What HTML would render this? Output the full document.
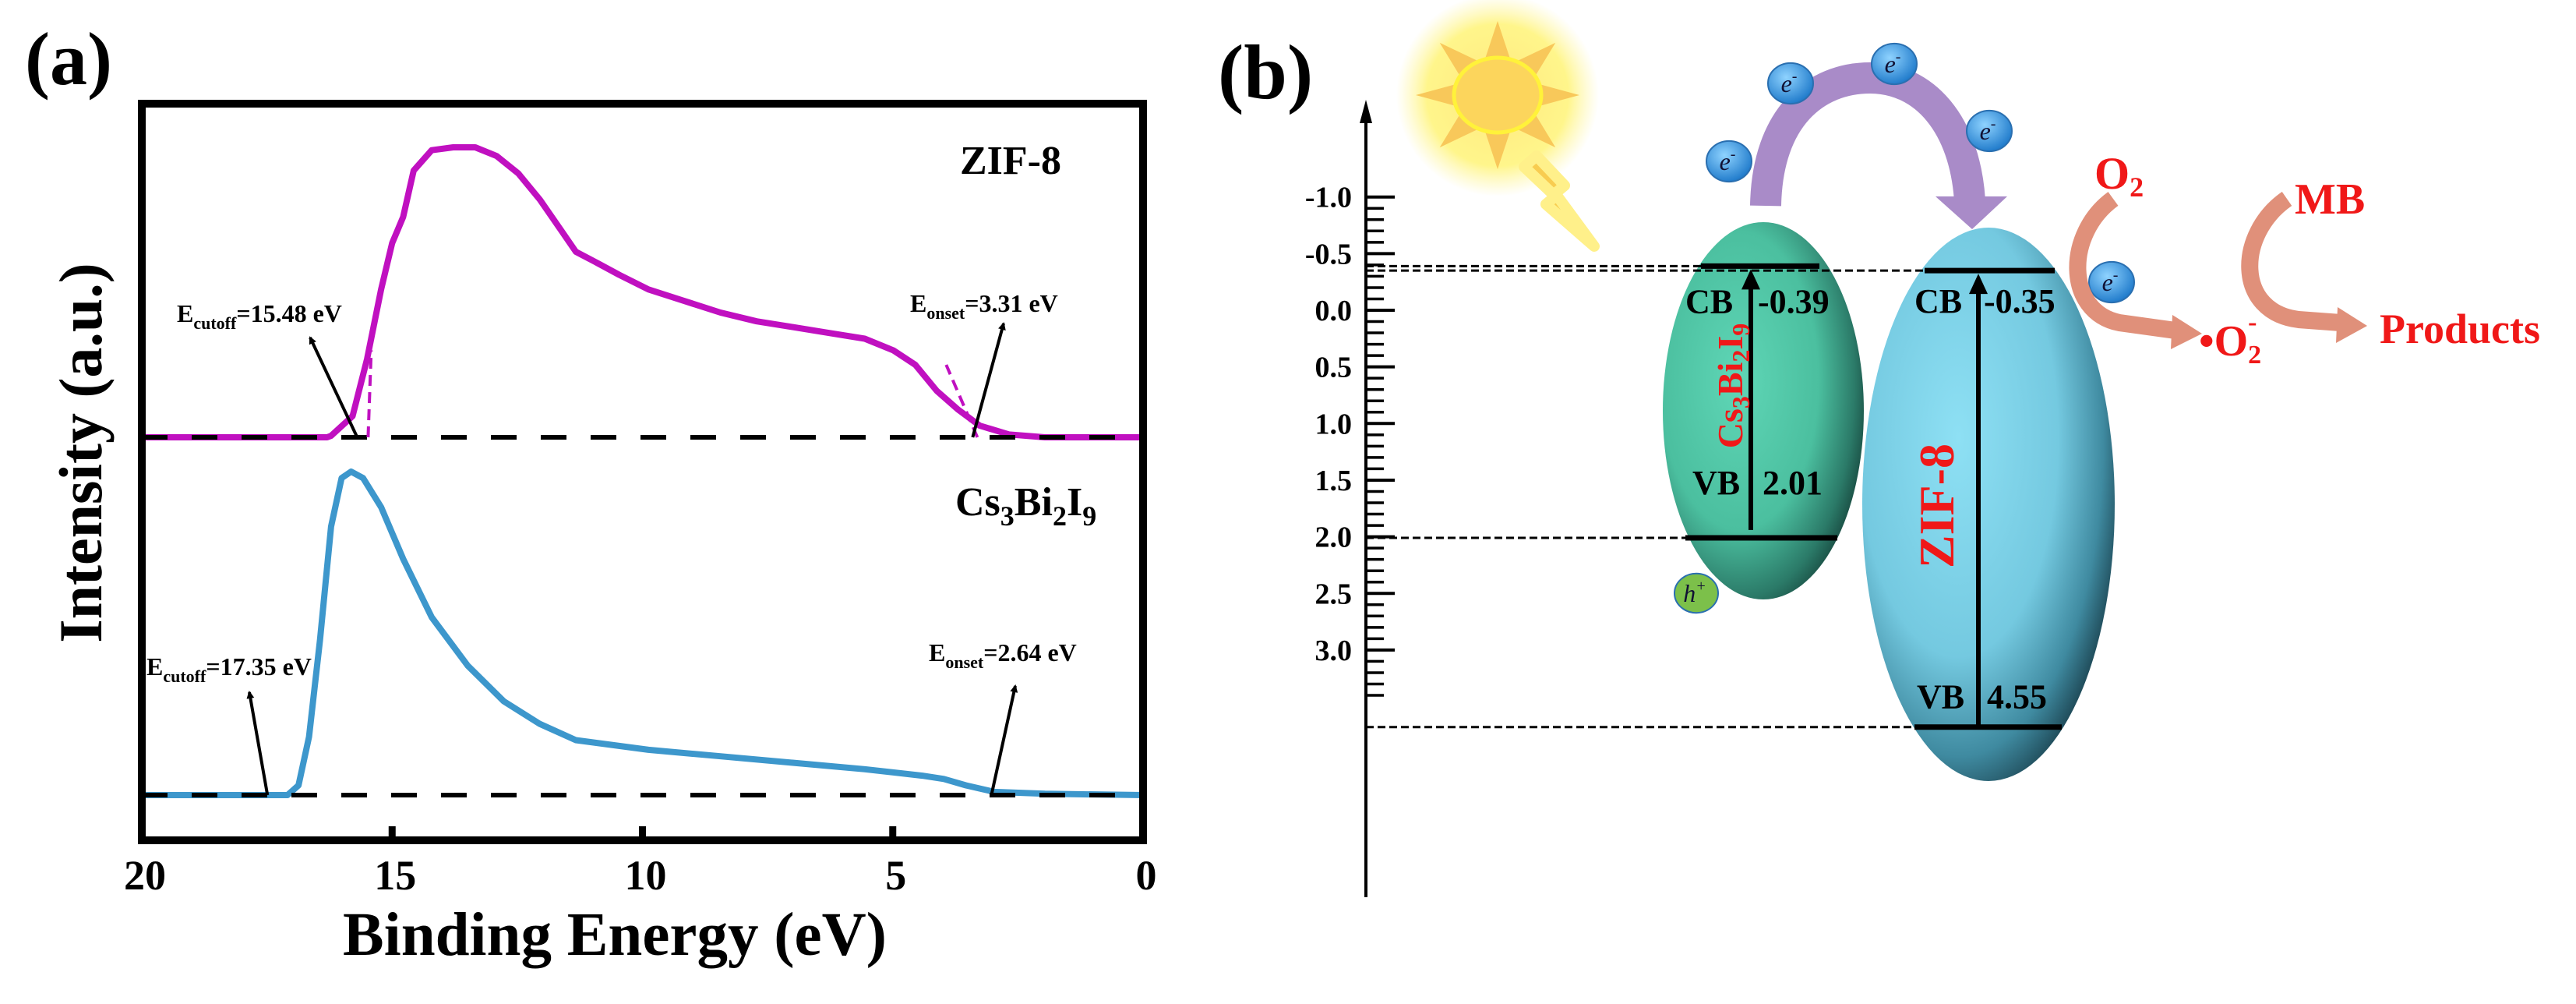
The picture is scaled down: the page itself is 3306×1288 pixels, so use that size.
<!DOCTYPE html>
<html><head><meta charset="utf-8"><style>
html,body{margin:0;padding:0;background:#fff;}
svg{display:block;font-family:"Liberation Serif",serif;font-weight:bold;}
</style></head><body>
<svg id="fig" width="3306" height="1288" viewBox="0 0 3306 1288" xmlns="http://www.w3.org/2000/svg">
<defs>
<radialGradient id="gCs" cx="0.38" cy="0.42" r="0.72">
<stop offset="0" stop-color="#5fd6b6"/><stop offset="0.55" stop-color="#4bbf9f"/><stop offset="0.8" stop-color="#2b7a68"/><stop offset="1" stop-color="#0c2a26"/></radialGradient>
<radialGradient id="gZif" cx="0.38" cy="0.38" r="0.72">
<stop offset="0" stop-color="#8ee0f4"/><stop offset="0.55" stop-color="#74c9e0"/><stop offset="0.8" stop-color="#3f8aa0"/><stop offset="1" stop-color="#102c36"/></radialGradient>
<radialGradient id="gE" cx="0.4" cy="0.35" r="0.7"><stop offset="0" stop-color="#8fd3ff"/><stop offset="1" stop-color="#1a76c8"/></radialGradient>
<radialGradient id="gSun" cx="0.5" cy="0.5" r="0.5"><stop offset="0" stop-color="#ffe060"/><stop offset="0.7" stop-color="#fff04a" stop-opacity="0.8"/><stop offset="1" stop-color="#fff27a" stop-opacity="0"/></radialGradient>
<marker id="ah" markerWidth="10" markerHeight="10" refX="8" refY="5" orient="auto" markerUnits="userSpaceOnUse" viewBox="0 0 10 10"><path d="M0,0 L10,5 L0,10 z" fill="#000"/></marker>
</defs>
<g id="panelA"></g>
<g id="panelB"></g>
</svg>
<script>
// ---- Panel (a) data ----
const zifEnergy = [20,16.3,16.22,15.79,15.5,15.22,15.0,14.78,14.57,14.21,13.78,13.34,12.91,12.48,12.05,11.61,11.33,10.89,10.46,9.88,9.16,8.44,7.72,7.0,6.28,5.56,4.99,4.55,4.12,3.69,3.26,2.68,1.96,0];
const zifIntensity = [0,0,0.005,0.073,0.27,0.51,0.67,0.76,0.92,0.99,1.0,1.0,0.97,0.91,0.82,0.71,0.64,0.60,0.56,0.51,0.47,0.43,0.40,0.38,0.36,0.34,0.30,0.25,0.16,0.095,0.04,0.01,0,0];
const csEnergy = [20,17.09,16.87,16.66,16.44,16.22,16.01,15.82,15.58,15.22,14.78,14.21,13.49,12.77,12.05,11.33,9.88,8.44,7.0,5.56,4.41,3.98,3.54,2.97,1.96,0];
const csIntensity = [0,0,0.03,0.18,0.48,0.83,0.98,1.0,0.98,0.89,0.73,0.55,0.40,0.29,0.22,0.17,0.14,0.12,0.10,0.08,0.06,0.05,0.03,0.01,0.004,0];
const xTicks = [20,15,10,5,0];
const cutoffs = [15.48,17.35];
const onsets = [3.31,2.64];
// ---- Panel (b) data ----
const levelTicks = [-1.0,-0.5,0.0,0.5,1.0,1.5,2.0,2.5,3.0];
const csBands = [-0.39,2.01];
const zifBands = [-0.35,4.55];

const NS='http://www.w3.org/2000/svg';
function el(tag,attrs,parent,text){const e=document.createElementNS(NS,tag);for(const k in attrs)e.setAttribute(k,attrs[k]);if(text!==undefined)e.textContent=text;parent.appendChild(e);return e;}
const A=document.getElementById('panelA'), B=document.getElementById('panelB');

const fx={l:182,r:1467,t:133,b:1078};
const xE=e=>fx.l+(20-e)/20*(fx.r-fx.l);
const yZ=v=>561-v*372;
const yC=v=>1020-v*415;

let t;
t=el('text',{x:32,y:108,'font-size':96},A,'(a)');



function curve(E,I,yf,color,w,name){
  const d=E.map((e,i)=>(i?'L':'M')+xE(e).toFixed(1)+','+yf(I[i]).toFixed(1)).join(' ');
  const p=el('path',{d:d,fill:'none',stroke:color,'stroke-width':w,'stroke-linejoin':'round'},A);
  
  
}
curve(zifEnergy,zifIntensity,yZ,'#c010c0',8,'zif8-curve');
curve(csEnergy,csIntensity,yC,'#3d97cc',8,'cs3bi2i9-curve');

let bl=el('line',{x1:fx.l,x2:fx.r,y1:yZ(0),y2:yZ(0),stroke:'#000','stroke-width':6,'stroke-dasharray':'33 31'},A);


bl=el('line',{x1:fx.l,x2:fx.r,y1:yC(0),y2:yC(0),stroke:'#000','stroke-width':6,'stroke-dasharray':'33 31'},A);



let fl=el('line',{x1:xE(cutoffs[0]),y1:yZ(0),x2:xE(cutoffs[0])+4,y2:yZ(0.3),stroke:'#c010c0','stroke-width':4,'stroke-dasharray':'14 8'},A);


fl=el('line',{x1:xE(onsets[0]),y1:yZ(0),x2:xE(onsets[0])-40,y2:yZ(0.25),stroke:'#c010c0','stroke-width':4,'stroke-dasharray':'14 8'},A);



let fr=el('rect',{x:fx.l,y:fx.t,width:fx.r-fx.l,height:fx.b-fx.t,fill:'none',stroke:'#000','stroke-width':10},A);


xTicks.forEach(v=>{
  const tk=el('line',{x1:xE(v),x2:xE(v),y1:fx.b,y2:fx.b-18,stroke:'#000','stroke-width':9},A);
  
  
  const tl=el('text',{x:xE(v)+4,y:1141,'font-size':54,'text-anchor':'middle'},A,String(v));
  
  
});
t=el('text',{x:789,y:1225,'font-size':79,'text-anchor':'middle'},A,'Binding Energy (eV)');


t=el('text',{x:0,y:0,'font-size':78,'text-anchor':'middle',transform:'translate(130,581) rotate(-90)'},A,'Intensity (a.u.)');



t=el('text',{x:1362,y:223,'font-size':52,'text-anchor':'end'},A,'ZIF-8');


t=el('text',{x:1226,y:661,'font-size':52},A);
t.innerHTML='Cs<tspan font-size="36" dy="13">3</tspan><tspan dy="-13">Bi</tspan><tspan font-size="36" dy="13">2</tspan><tspan dy="-13">I</tspan><tspan font-size="36" dy="13">9</tspan>';



function annot(x,y,sub,val,x1,y1,x2,y2,name){
  const g=el('text',{x:x,y:y,'font-size':32},A);
  g.innerHTML='E<tspan font-size="22" dy="9">'+sub+'</tspan><tspan dy="-9">='+val.toFixed(2)+' eV</tspan>';
  
  
  const a=el('line',{x1:x1,y1:y1,x2:x2,y2:y2,stroke:'#000','stroke-width':4,'marker-end':'url(#ah)'},A);
  
  
}
annot(227,413,'cutoff',cutoffs[0],xE(cutoffs[0])-14,yZ(0),398,433,'zif8-cutoff');
annot(1168,400,'onset',onsets[0],xE(onsets[0])-6,yZ(0),1288,415,'zif8-onset');
annot(188,866,'cutoff',cutoffs[1],xE(cutoffs[1])-9,yC(0),320,888,'cs-cutoff');
annot(1192,848,'onset',onsets[1],xE(onsets[1])-25,yC(0),1303,880,'cs-onset');

// ---- Panel (b) ----
const ax=1753, y0=398, per=145.3, axisMax=3.68;
const yL=v=>y0+Math.min(v,axisMax)*per;
t=el('text',{x:1563,y:126,'font-size':100},B,'(b)');


let ln=el('line',{x1:ax,x2:ax,y1:1151,y2:150,stroke:'#000','stroke-width':4},B);


let ah=el('path',{d:`M${ax-8},158 L${ax},128 L${ax+8},158 z`,fill:'#000'},B);


for(let i=0;i<=44;i++){
  const v=-1.0+i*0.1;
  const major=i%5===0;
  const m=el('line',{x1:ax,x2:ax+(major?37:23),y1:yL(v),y2:yL(v),stroke:'#000','stroke-width':major?4:3.5},B);
  
  
}
levelTicks.forEach(v=>{
  const tl=el('text',{x:1735,y:yL(v)+13,'font-size':38,'text-anchor':'end'},B,v.toFixed(1));
  
  
});

let ce=el('ellipse',{cx:2263,cy:527,rx:129,ry:242,fill:'url(#gCs)'},B);


let ze=el('ellipse',{cx:2552,cy:647,rx:162,ry:355,fill:'url(#gZif)'},B);



function dash(v,x2,name){const d=el('line',{x1:ax,x2:x2,y1:yL(v),y2:yL(v),stroke:'#000','stroke-width':3,'stroke-dasharray':'10 5'},B);

}
dash(csBands[0],2183,'cs-cb-guide');dash(zifBands[0],2470,'zif-cb-guide');
dash(csBands[1],2163,'cs-vb-guide');dash(zifBands[1],2457,'zif-vb-guide');

function band(v,x1,x2,name){const b=el('line',{x1:x1,x2:x2,y1:yL(v),y2:yL(v),stroke:'#000','stroke-width':7},B);

}
band(csBands[0],2183,2335,'cs-cb-level');band(csBands[1],2163,2358,'cs-vb-level');
band(zifBands[0],2470,2637,'zif-cb-level');band(zifBands[1],2457,2646,'zif-vb-level');

function varrow(x,v1,v2,name){
  const a=el('line',{x1:x,x2:x,y1:yL(v2),y2:yL(v1)+26,stroke:'#000','stroke-width':6},B);
  
  
  const h=el('path',{d:`M${x-12},${yL(v1)+30} L${x},${yL(v1)+4} L${x+12},${yL(v1)+30} z`,fill:'#000'},B);
  
  
}
varrow(2247,csBands[0],csBands[1]-0.07,'cs-excitation-arrow');
varrow(2539,zifBands[0],zifBands[1],'zif-excitation-arrow');

function lvlText(x,y,s,name){const tt=el('text',{x:x,y:y,'font-size':44},B,s);

}
lvlText(2163,yL(csBands[0])+60,'CB','cs-cb-text');
lvlText(2256,yL(csBands[0])+60,csBands[0].toFixed(2),'cs-cb-value');
lvlText(2172,yL(csBands[1])-56,'VB','cs-vb-text');
lvlText(2262,yL(csBands[1])-56,csBands[1].toFixed(2),'cs-vb-value');
lvlText(2457,yL(zifBands[0])+54,'CB','zif-cb-text');
lvlText(2546,yL(zifBands[0])+54,zifBands[0].toFixed(2),'zif-cb-value');
lvlText(2460,yL(zifBands[1])-24,'VB','zif-vb-text');
lvlText(2550,yL(zifBands[1])-24,zifBands[1].toFixed(2),'zif-vb-value');

t=el('text',{x:0,y:0,'font-size':46,fill:'#f01818','text-anchor':'middle',transform:'translate(2236,495) rotate(-90)'},B);
t.innerHTML='Cs<tspan font-size="32" dy="9">3</tspan><tspan dy="-9">Bi</tspan><tspan font-size="32" dy="9">2</tspan><tspan dy="-9">I</tspan><tspan font-size="32" dy="9">9</tspan>';


t=el('text',{x:0,y:0,'font-size':64,fill:'#f01818','text-anchor':'middle',transform:'translate(2507,649) rotate(-90)'},B,'ZIF-8');



// sun
const sun=el('g',{},B);


el('circle',{cx:1922,cy:122,r:130,fill:'url(#gSun)',opacity:0.8},sun);
for(let i=0;i<8;i++){const a=i*Math.PI/4;
  const px=1922+Math.cos(a)*105, py=122+Math.sin(a)*95;
  const lx=1922+Math.cos(a+0.32)*52, ly=122+Math.sin(a+0.32)*48;
  const rx=1922+Math.cos(a-0.32)*52, ry=122+Math.sin(a-0.32)*48;
  el('path',{d:`M${px},${py} L${lx},${ly} L${rx},${ry} z`,fill:'#f8c85a'},sun);}
el('ellipse',{cx:1922,cy:122,rx:56,ry:48,fill:'#fcd55c',stroke:'#fff23a','stroke-width':5},sun);
const bolt=el('path',{d:'M1972,200 L2008,238 L1996,248 L2046,316 L1984,262 L1996,252 L1956,214 Z',fill:'#f8cc50',stroke:'#fff08a','stroke-width':14,'stroke-linejoin':'round'},B);



const pa=el('path',{d:'M2266,264 C2268,150 2330,100 2400,100 C2470,100 2522,160 2528,258',fill:'none',stroke:'#a98bc8','stroke-width':40},B);


const pah=el('path',{d:'M2484,252 L2576,252 L2531,294 Z',fill:'#a98bc8'},B);



function particle(cx,cy,fill,label,sup,name,r){
  const g=el('g',{},B);
  
  
  el('ellipse',{cx:cx,cy:cy,rx:r,ry:r*0.9,fill:fill,stroke:'#2a6fb0','stroke-width':2},g);
  const tx=el('text',{x:cx-2,y:cy+11,'font-size':32,'font-style':'italic','font-weight':'normal','text-anchor':'middle',fill:'#113'},g);
  tx.innerHTML=label+'<tspan font-size="20" dy="-14">'+sup+'</tspan>';
}
particle(2219,207,'url(#gE)','e','-','electron-1',29);
particle(2298,107,'url(#gE)','e','-','electron-2',29);
particle(2431,82,'url(#gE)','e','-','electron-3',29);
particle(2553,168,'url(#gE)','e','-','electron-4',29);
particle(2710,362,'url(#gE)','e','-','electron-5',29);
particle(2177,761,'#7cc04a','h','+','hole',28);

// O2 reduction
const oa=el('path',{d:'M2712,255 C2650,300 2650,400 2720,414 L2792,424',fill:'none',stroke:'#e0907a','stroke-width':22},B);


const oah=el('path',{d:'M2788,404 L2826,428 L2786,448 Z',fill:'#e0907a'},B);


t=el('text',{x:2688,y:242,'font-size':58,fill:'#f01818'},B);
t.innerHTML='O<tspan font-size="36" dy="10">2</tspan>';


t=el('text',{x:2822,y:456,'font-size':56,fill:'#f01818'},B);
t.innerHTML='•O<tspan font-size="34" dy="10">2</tspan><tspan font-size="34" dx="-17" dy="-42">-</tspan>';



const ma=el('path',{d:'M2935,255 C2870,300 2868,400 2950,410 L3004,414',fill:'none',stroke:'#e0907a','stroke-width':22},B);


const mah=el('path',{d:'M3000,394 L3038,418 L2998,440 Z',fill:'#e0907a'},B);


t=el('text',{x:2945,y:274,'font-size':56,fill:'#f01818'},B,'MB');


t=el('text',{x:3054,y:440,'font-size':54,fill:'#f01818'},B,'Products');


</script>
</body></html>
